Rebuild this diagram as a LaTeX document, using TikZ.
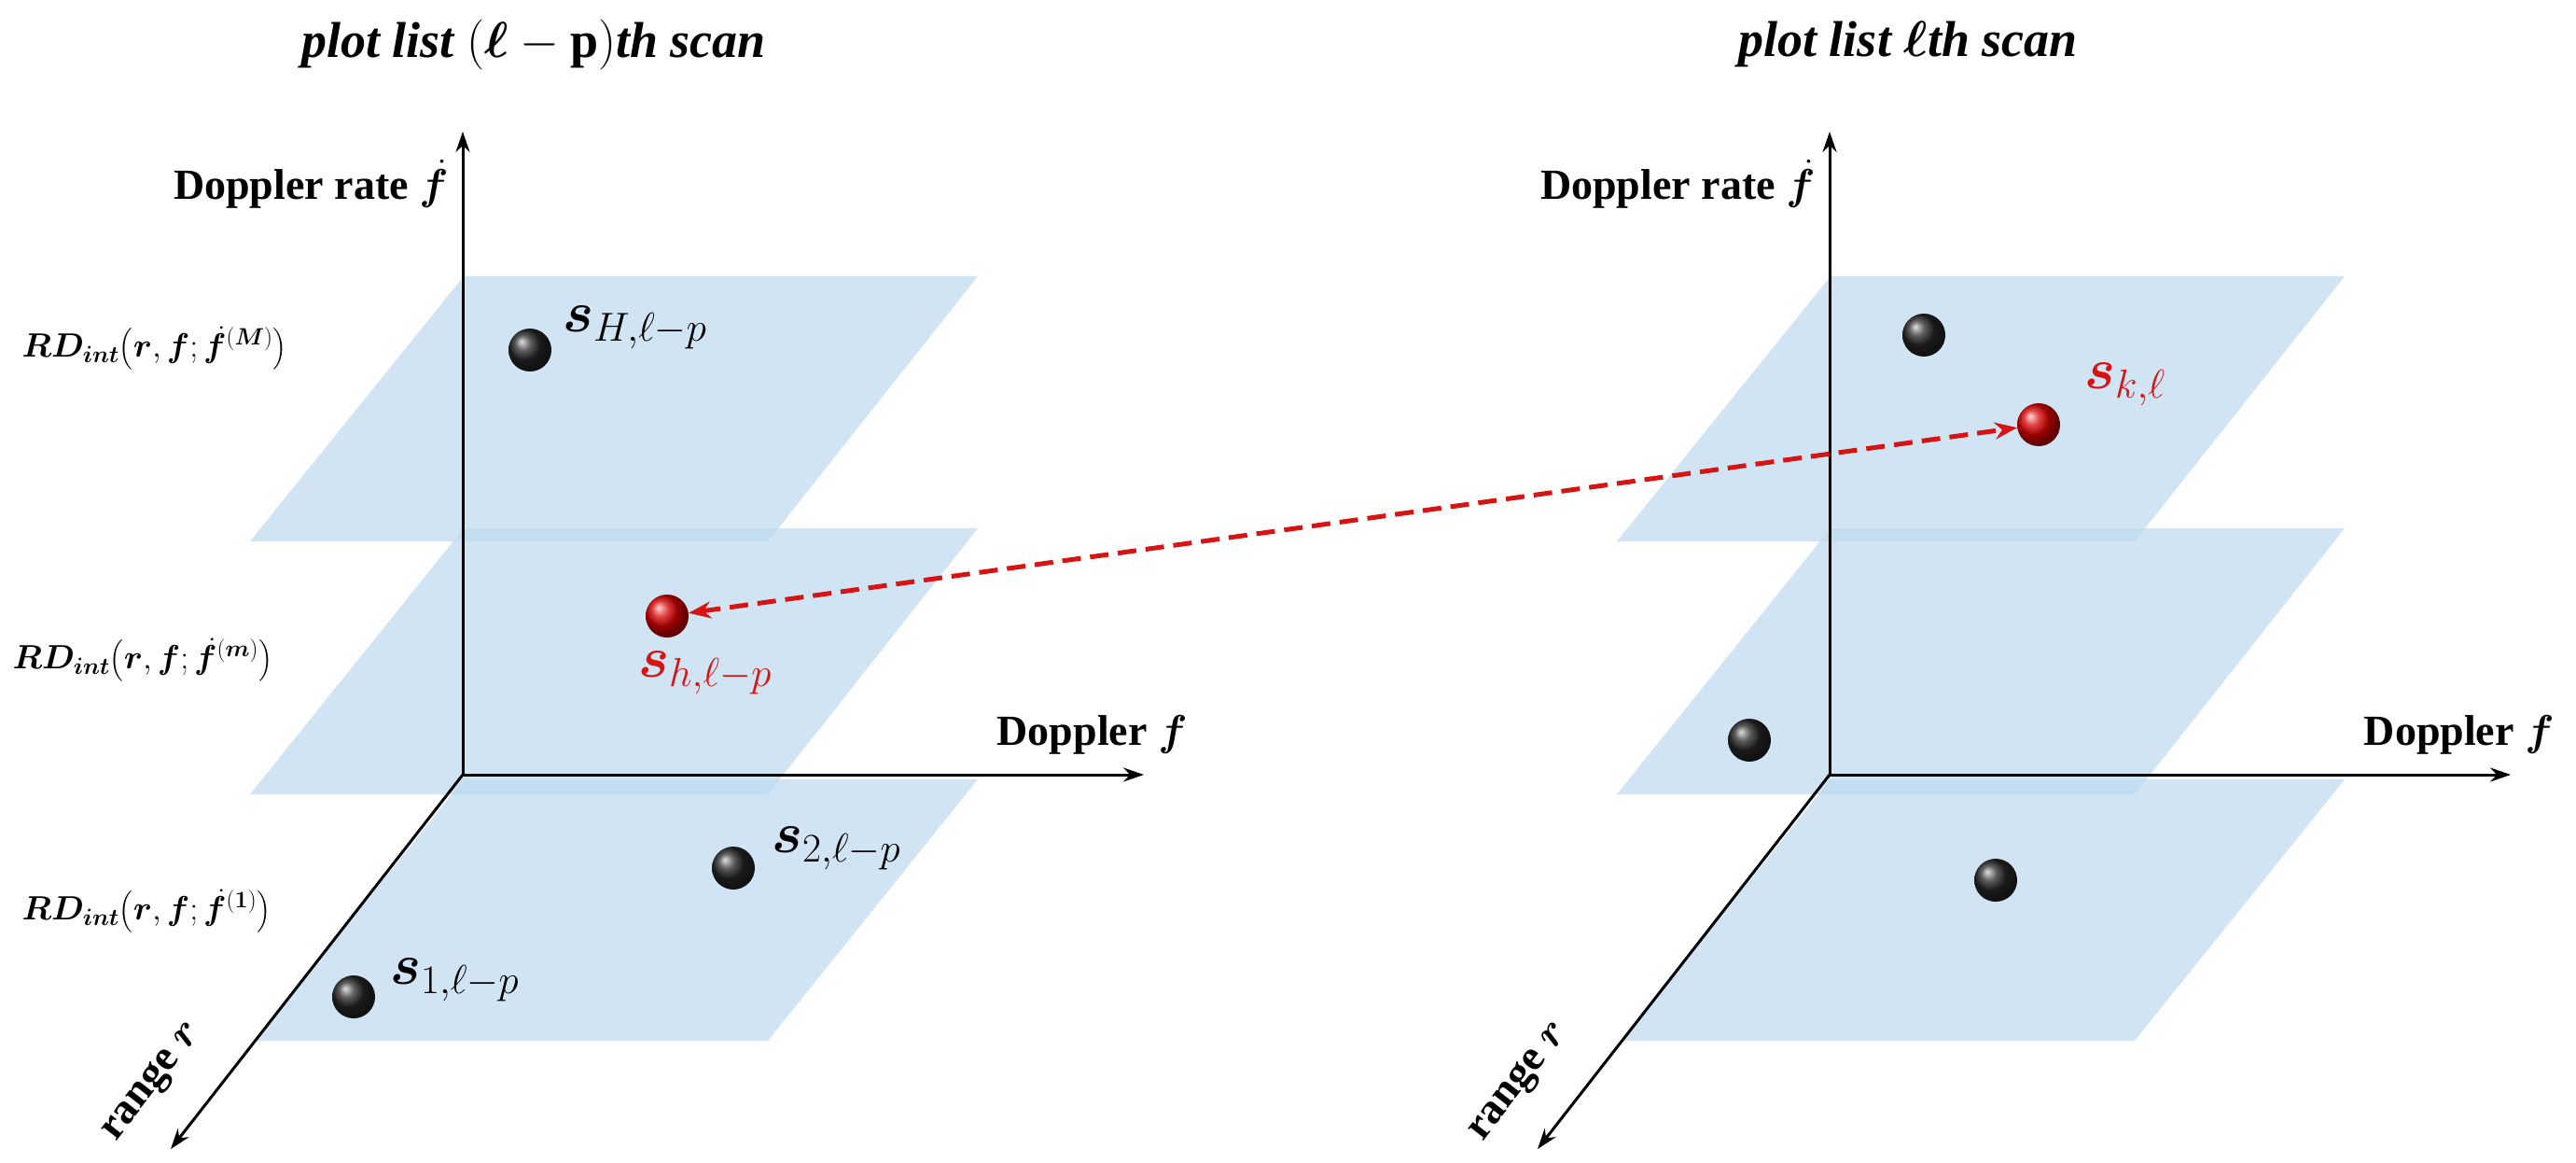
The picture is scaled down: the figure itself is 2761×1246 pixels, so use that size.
\RequirePackage{fix-cm}
\documentclass[tikz,border=0pt]{standalone}
\usepackage{amsmath,bm}
\usepackage{fontspec}
\setmainfont{Liberation Serif}
\usetikzlibrary{arrows.meta}
\definecolor{plane}{RGB}{190,218,240}
\definecolor{dred}{RGB}{215,20,20}
\tikzset{
  pl/.style={fill=plane,fill opacity=0.72,draw=none},
  ax/.style={line width=3pt,-{Stealth[length=22pt,width=15pt]}},
  ball/.style={circle,minimum size=46pt,inner sep=0,ball color=black!85},
  rball/.style={circle,minimum size=46pt,inner sep=0,ball color=red!85!black},
  ttl/.style={font=\fontsize{54}{60}\selectfont\bfseries\itshape},
  axl/.style={font=\fontsize{46}{52}\selectfont\bfseries},
  rdl/.style={font=\fontsize{36}{42}\selectfont,anchor=west},
  sl/.style={font=\fontsize{62}{68}\selectfont,anchor=west,inner sep=0},
}
\begin{document}
\begin{tikzpicture}[x=1pt,y=-1pt]
\useasboundingbox (0,0) rectangle (2761,1246);
\foreach \o/\n in {0/L,1465/R}{
  \begin{scope}[xshift=\o pt]
  \fill[pl] (497,296) -- (1048,296) -- (823,580) -- (268,580) -- cycle;
  \fill[pl] (497,566) -- (1048,566) -- (823,851) -- (268,851) -- cycle;
  \fill[pl] (497,835) -- (1048,835) -- (823,1115) -- (273,1115) -- cycle;
  \coordinate (O\n) at (496,830);
  \coordinate (V\n) at (496,141);
  \coordinate (H\n) at (1226,830);
  \coordinate (D\n) at (183,1231);
  \draw[ax] (O\n) -- (V\n);
  \draw[ax] (O\n) -- (H\n);
  \draw[ax] (O\n) -- (D\n);
  \node[axl,anchor=east] (vl\n) at (484,197) {Doppler rate $\dot{\bm f}$};
  \node[axl,anchor=east] (hl\n) at (1276,787) {Doppler $\bm f$};
  \node[axl,rotate=52] (rl\n) at (165,1160) {range $\bm r$};
  \end{scope}
}
\node[ttl] (t1) at (572,48) {plot list $(\bm\ell-\mathbf{p})$th scan};
\node[ttl] (t2) at (2045,48) {plot list $\bm\ell$th scan};
\node[rdl] (rd1) at (20,373) {$\bm{RD}_{\bm{int}}\bigl(\bm r,\bm f;\dot{\bm f}^{(\bm M)}\bigr)$};
\node[rdl] (rd2) at (10,707) {$\bm{RD}_{\bm{int}}\bigl(\bm r,\bm f;\dot{\bm f}^{(\bm m)}\bigr)$};
\node[rdl] (rd3) at (20,976) {$\bm{RD}_{\bm{int}}\bigl(\bm r,\bm f;\dot{\bm f}^{(\bm 1)}\bigr)$};
% left balls
\node[ball] (bH) at (568,375) {};
\node[rball] (bh) at (715,660) {};
\node[ball] (b2) at (786,930) {};
\node[ball] (b1) at (379,1068) {};
% right balls
\node[ball] (r1) at (2062,359) {};
\node[rball] (bk) at (2185,455) {};
\node[ball] (r2) at (1875,793) {};
\node[ball] (r3) at (2139,943) {};
% labels
\node[sl] (lH) at (603,351) {$\bm s_{H,\ell-p}$};
\node[sl,text=dred] (lh) at (684,721) {$\bm s_{h,\ell-p}$};
\node[sl] (l2) at (827,909) {$\bm s_{2,\ell-p}$};
\node[sl] (l1) at (418,1050) {$\bm s_{1,\ell-p}$};
\node[sl,text=dred] (lk) at (2234,412) {$\bm s_{k,\ell}$};
\draw[dred,line width=5pt,dash pattern=on 20pt off 10pt,{Stealth[length=24pt,width=18pt]}-{Stealth[length=24pt,width=18pt]}] (bh) -- (bk);
\end{tikzpicture}
\end{document}
